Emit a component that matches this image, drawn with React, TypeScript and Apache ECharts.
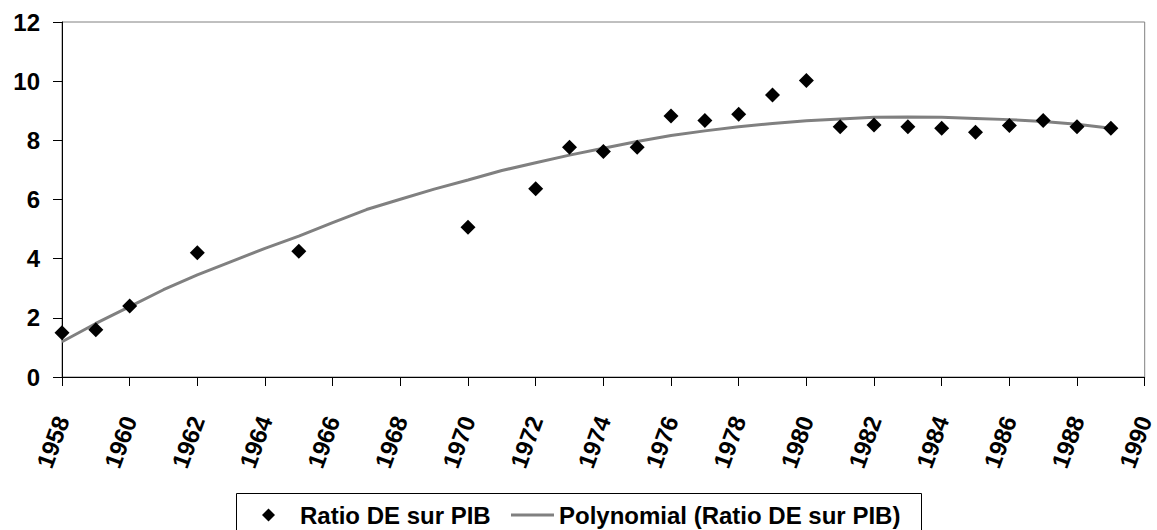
import React, { useEffect, useRef } from "react";
import * as echarts from "echarts";

const years = [1958, 1959, 1960, 1962, 1965, 1970, 1972, 1973, 1974, 1975, 1976, 1977, 1978, 1979, 1980, 1981, 1982, 1983, 1984, 1985, 1986, 1987, 1988, 1989];
const ratio = [1.5, 1.6, 2.4, 4.2, 4.25, 5.06, 6.36, 7.77, 7.62, 7.77, 8.82, 8.67, 8.88, 9.53, 10.02, 8.46, 8.52, 8.46, 8.41, 8.27, 8.5, 8.67, 8.46, 8.41];

const trendYears = [1958, 1959, 1960, 1961, 1962, 1963, 1964, 1965, 1966, 1967, 1968, 1969, 1970, 1971, 1972, 1973, 1974, 1975, 1976, 1977, 1978, 1979, 1980, 1981, 1982, 1983, 1984, 1985, 1986, 1987, 1988, 1989];
const trend = [1.19, 1.81, 2.38, 2.95, 3.45, 3.9, 4.35, 4.76, 5.22, 5.66, 6.01, 6.35, 6.66, 6.98, 7.24, 7.5, 7.73, 7.96, 8.16, 8.32, 8.46, 8.57, 8.66, 8.72, 8.78, 8.79, 8.78, 8.74, 8.7, 8.64, 8.54, 8.41];

const seriesNames = ["Ratio DE sur PIB", "Polynomial (Ratio DE sur PIB)"];

const FONT = "'Liberation Sans', Arial, sans-serif";

export default function App() {
  const ref = useRef<HTMLDivElement>(null);
  useEffect(() => {
    document.body.style.margin = "0";
    const chart = echarts.init(ref.current!, null, { renderer: "svg" });
    chart.setOption({
      animation: false,
      backgroundColor: "#ffffff",
      grid: {
        left: 62,
        top: 22,
        right: 4,
        bottom: 153,
        show: true,
        borderColor: "#808080",
        borderWidth: 1,
      },
      xAxis: {
        type: "value",
        min: 1958,
        max: 1990,
        interval: 2,
        splitLine: { show: false },
        axisLine: { lineStyle: { color: "#000", width: 1 } },
        axisTick: { length: 9, lineStyle: { color: "#000" } },
        axisLabel: {
          rotate: 70,
          margin: 40,
          color: "#000",
          fontSize: 24,
          fontWeight: "bold",
          fontFamily: FONT,
          formatter: (v: number) => String(v),
        },
      },
      yAxis: {
        type: "value",
        min: 0,
        max: 12,
        interval: 2,
        splitLine: { show: false },
        axisLine: { show: true, lineStyle: { color: "#000", width: 1 } },
        axisTick: { show: true, length: 9, lineStyle: { color: "#000" } },
        axisLabel: {
          margin: 22,
          color: "#000",
          fontSize: 24,
          fontWeight: "bold",
          fontFamily: FONT,
        },
      },
      legend: [
        {
          data: [{ name: seriesNames[0], icon: "diamond" }],
          left: 262,
          top: 503,
          padding: 0,
          itemWidth: 13,
          itemHeight: 13,
          itemStyle: { color: "#000", opacity: 1 },
          textStyle: { color: "#000", fontSize: 24, fontWeight: "bold", fontFamily: FONT, padding: [0, 0, 0, 20] },
        },
        {
          data: [{ name: seriesNames[1], icon: "rect" }],
          left: 511,
          top: 503,
          padding: 0,
          itemWidth: 43,
          itemHeight: 3,
          itemStyle: { color: "#808080" },
          textStyle: { color: "#000", fontSize: 24, fontWeight: "bold", fontFamily: FONT },
        },
      ],
      graphic: [
        {
          type: "rect",
          shape: { x: 236.5, y: 493.5, width: 685, height: 60 },
          style: { fill: "none", stroke: "#000", lineWidth: 1 },
        },
      ],
      series: [
        {
          name: seriesNames[1],
          type: "line",
          data: trendYears.map((y, i) => [y, trend[i]]),
          symbol: "none",
          lineStyle: { color: "#808080", width: 3 },
          itemStyle: { color: "#808080" },
          z: 2,
        },
        {
          name: seriesNames[0],
          type: "scatter",
          data: years.map((y, i) => [y, ratio[i]]),
          symbol: "diamond",
          symbolSize: 15,
          itemStyle: { color: "#000", opacity: 1 },
          z: 3,
        },
      ],
    });
    return () => chart.dispose();
  }, []);
  return <div ref={ref} style={{ width: 1157, height: 530 }} />;
}
